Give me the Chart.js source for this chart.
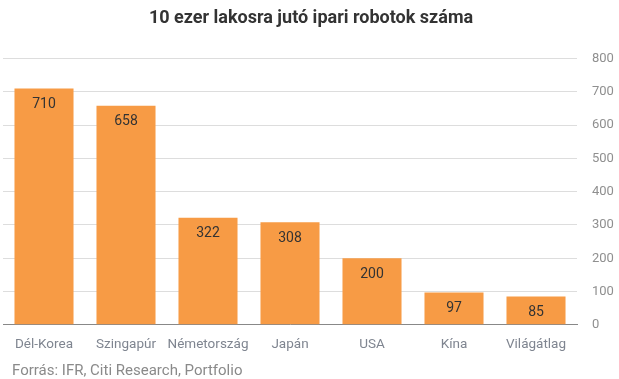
<!DOCTYPE html>
<html>
<head>
<meta charset="utf-8">
<script src="https://cdn.jsdelivr.net/npm/chart.js@4"></script>
<style>
html,body{margin:0;padding:0;background:#fff;}
#wrap{width:619px;height:379px;}
</style>
</head>
<body>
<div id="wrap"><canvas id="c" width="619" height="379"></canvas></div>
<script>
const categories = ["Dél-Korea","Szingapúr","Németország","Japán","USA","Kína","Világátlag"];
const values = [710, 658, 322, 308, 200, 97, 85];
const yTicks = [0,100,200,300,400,500,600,700,800];
const titleText = "10 ezer lakosra jutó ipari robotok száma";
const sourceText = "Forrás: IFR, Citi Research, Portfolio";

const valueLabels = {
  id: 'valueLabels',
  afterDatasetsDraw(chart) {
    const ctx = chart.ctx;
    const meta = chart.getDatasetMeta(0);
    ctx.save();
    ctx.font = '14px Roboto';
    ctx.fillStyle = '#333333';
    ctx.textAlign = 'center';
    ctx.textBaseline = 'middle';
    meta.data.forEach((bar, i) => {
      ctx.fillText(String(values[i]), bar.x, bar.y + 16);
    });
    ctx.restore();
  }
};
const footer = {
  id: 'footer',
  afterDraw(chart) {
    const ctx = chart.ctx;
    ctx.save();
    ctx.font = '15px Roboto';
    ctx.fillStyle = '#8a8a8a';
    ctx.textAlign = 'left';
    ctx.textBaseline = 'middle';
    ctx.fillText(sourceText, 12, chart.height - 8);
    ctx.restore();
  }
};

new Chart(document.getElementById('c'), {
  type: 'bar',
  data: {
    labels: categories,
    datasets: [{
      data: values,
      backgroundColor: '#F79B45',
      barPercentage: 0.72,
      categoryPercentage: 1.0
    }]
  },
  options: {
    responsive: false,
    animation: false,
    layout: { padding: { left: 3, right: 0, top: 0, bottom: 14 } },
    plugins: {
      legend: { display: false },
      tooltip: { enabled: false },
      title: {
        display: true,
        text: titleText,
        color: '#333333',
        font: { family: 'Roboto', size: 18, weight: 'bold' },
        padding: { top: 8, bottom: 29 }
      }
    },
    scales: {
      x: {
        grid: { display: false, drawTicks: false },
        border: { display: true, color: '#888888', width: 1 },
        ticks: { color: '#7f8590', font: { family: 'Roboto', size: 13.5 }, padding: 12, maxRotation: 0, autoSkip: false }
      },
      y: {
        position: 'right',
        min: 0, max: 800,
        afterBuildTicks(axis) { axis.ticks = yTicks.map(v => ({ value: v })); },
        afterFit(axis) { axis.width = 42; },
        grid: { color: '#dddddd', drawTicks: false },
        border: { display: false },
        ticks: { color: '#8f8f8f', font: { family: 'Roboto', size: 13 }, padding: 15 }
      }
    }
  },
  plugins: [valueLabels, footer]
});
</script>
</body>
</html>
